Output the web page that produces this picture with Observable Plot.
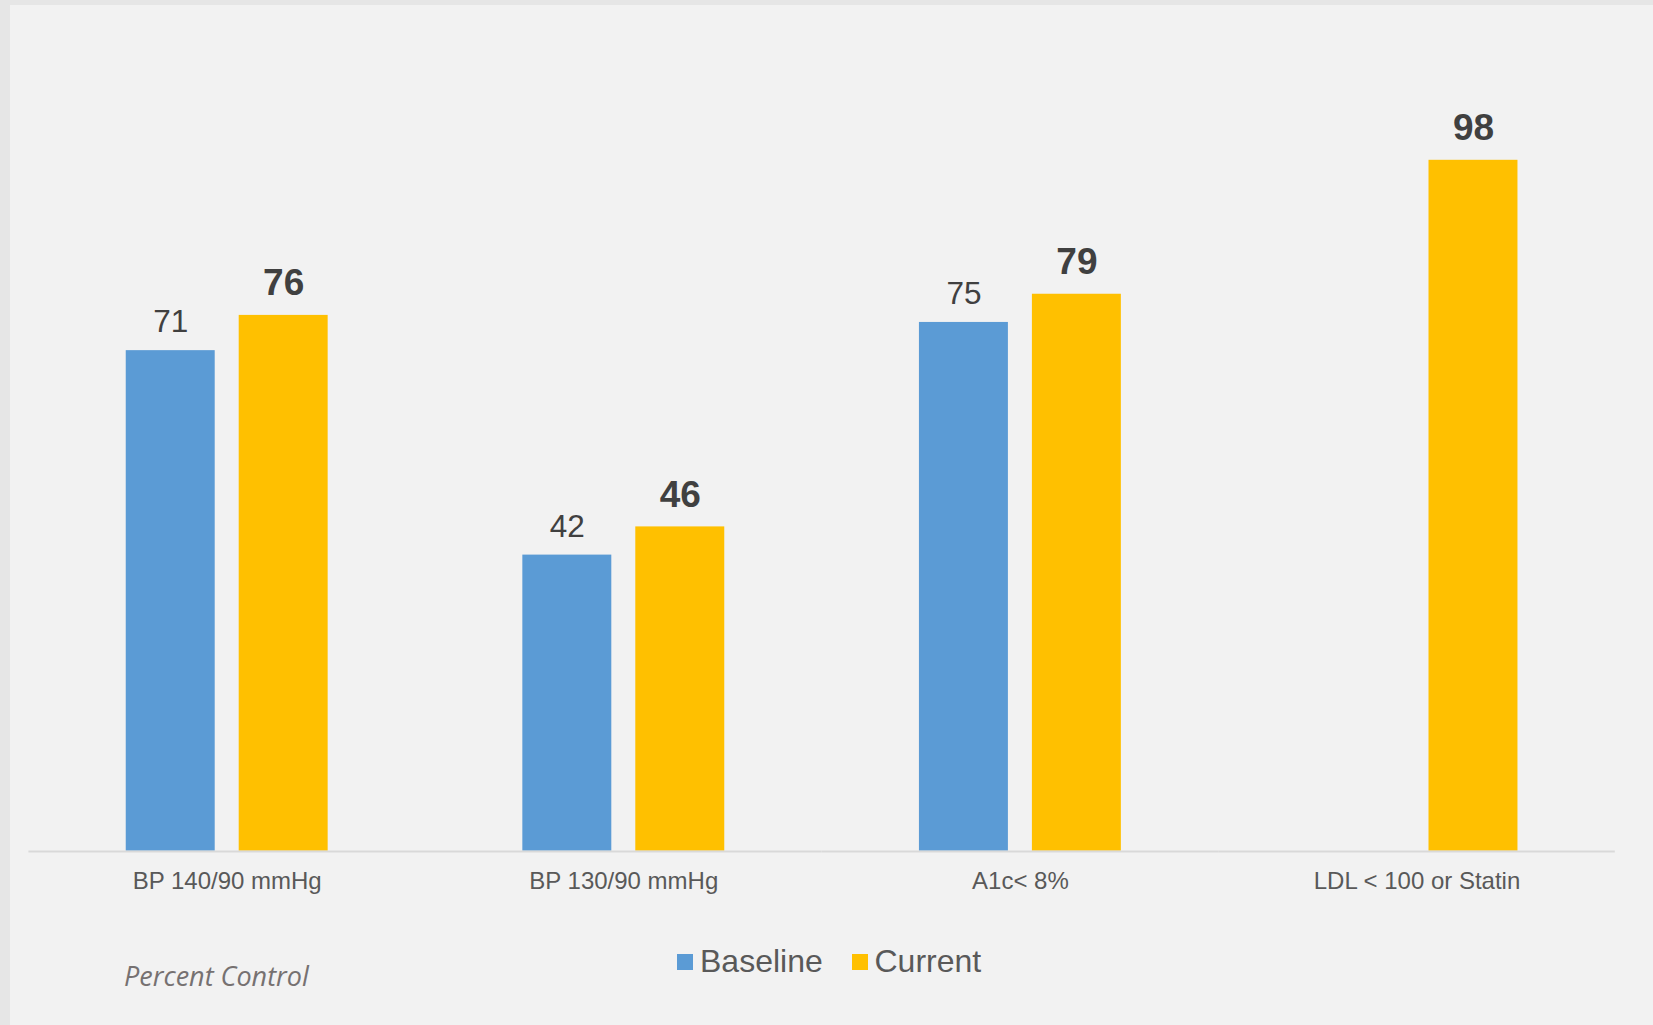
<!DOCTYPE html>
<html>
<head>
<meta charset="utf-8">
<script src="https://cdn.jsdelivr.net/npm/d3@7"></script>
<script src="https://cdn.jsdelivr.net/npm/@observablehq/plot@0.6"></script>
<style>
  html, body { margin: 0; padding: 0; }
  body { width: 1653px; height: 1025px; background: #e6e6e6; position: relative; overflow: hidden; font-family: "Liberation Sans", Arial, sans-serif; }
  #panel { position: absolute; left: 10px; top: 5px; width: 1643px; height: 1020px; background: #f2f2f2; }
  #chart { position: absolute; left: 0; top: 0; }
  .legsq { position: absolute; width: 16px; height: 16.5px; }
  .legtx { position: absolute; font-size: 32px; line-height: 32px; color: #595959; white-space: nowrap; }
  #caption { position: absolute; left: 124px; top: 962.3px; font-family: "Open Sans", "Noto Sans", sans-serif; font-style: italic; font-size: 27px; line-height: 27px; color: #767171; white-space: nowrap; }
</style>
</head>
<body>
<div id="panel"></div>
<div id="chart"></div>
<div id="caption">Percent Control</div>
<div id="legend"></div>
<script>
const categories = ["BP 140/90 mmHg", "BP 130/90 mmHg", "A1c< 8%", "LDL < 100 or Statin"];
const seriesNames = ["Baseline", "Current"];
const baseline = [71, 42, 75, null];
const current = [76, 46, 79, 98];
const seriesColors = ["#5b9bd5", "#ffc000"];

const rows = categories.flatMap((c, i) => [
  {category: c, series: seriesNames[0], value: baseline[i]},
  {category: c, series: seriesNames[1], value: current[i]}
]).filter(d => d.value != null);

const chart = Plot.plot({
  width: 1653,
  height: 1025,
  marginLeft: 28.4,
  marginRight: 38.2,
  marginTop: 145.7,
  marginBottom: 174.3,
  style: {background: "transparent", fontFamily: "'Liberation Sans', Arial, sans-serif"},
  fx: {domain: categories, padding: 0, label: null, round: false},
  x: {domain: seriesNames, paddingInner: 0.2124, paddingOuter: 0.8617, axis: null, round: false},
  y: {domain: [0, 100], axis: null},
  color: {domain: seriesNames, range: seriesColors},
  marks: [
    Plot.barY(rows, {fx: "category", x: "series", y: "value", fill: "series"}),
    Plot.ruleY([0], {stroke: "#d9d9d9", strokeWidth: 2, dy: 0.3}),
    Plot.text(rows.filter(d => d.series === "Baseline"), {
      fx: "category", x: "series", y: "value", text: d => String(d.value),
      lineAnchor: "bottom", dy: -18.3, fontSize: 31.5, fill: "#404040"
    }),
    Plot.text(rows.filter(d => d.series === "Current"), {
      fx: "category", x: "series", y: "value", text: d => String(d.value),
      lineAnchor: "bottom", dy: -20, fontSize: 37, fontWeight: "bold", fill: "#404040"
    }),
    Plot.axisFx({anchor: "bottom", tickSize: 0, tickPadding: 20.5, fontSize: 24, fill: "#595959", label: null})
  ]
});
document.getElementById("chart").appendChild(chart);

// legend
const legend = document.getElementById("legend");
const legItems = [
  {name: seriesNames[0], color: seriesColors[0], sqx: 677, tx: 700},
  {name: seriesNames[1], color: seriesColors[1], sqx: 852, tx: 874.5}
];
legItems.forEach(it => {
  const sq = document.createElement("div");
  sq.className = "legsq";
  sq.style.left = it.sqx + "px";
  sq.style.top = "953.5px";
  sq.style.background = it.color;
  legend.appendChild(sq);
  const t = document.createElement("div");
  t.className = "legtx";
  t.style.left = it.tx + "px";
  t.style.top = "944.6px";
  t.textContent = it.name;
  legend.appendChild(t);
});
</script>
</body>
</html>
